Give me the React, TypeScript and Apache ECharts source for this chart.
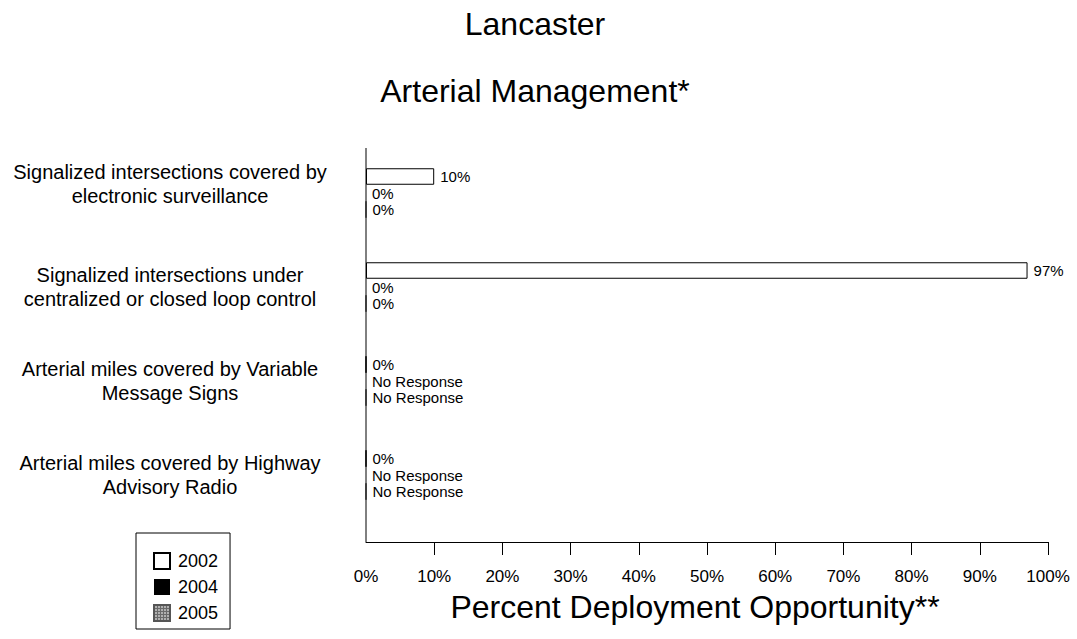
import React, { useEffect, useRef } from "react";
import * as echarts from "echarts";

const categories = [
  "Signalized intersections covered by\nelectronic surveillance",
  "Signalized intersections under\ncentralized or closed loop control",
  "Arterial miles covered by Variable\nMessage Signs",
  "Arterial miles covered by Highway\nAdvisory Radio",
];
const seriesNames = ["2002", "2004", "2005"];
const values2002: (number | null)[] = [10, 97, 0, 0];
const values2004: (number | null)[] = [0, 0, null, null];
const values2005: (number | null)[] = [0, 0, null, null];
const tickValues = [10, 20, 30, 40, 50, 60, 70, 80, 90, 100];
const titleText = "Lancaster";
const subtitleText = "Arterial Management*";
const axisTitleText = "Percent Deployment Opportunity**";
const noResponseText = "No Response";

const FONT = "'Liberation Sans', Arial, Helvetica, sans-serif";
const W = 1077;
const H = 639;
const GRID_LEFT = 366;
const GRID_RIGHT = 29;
const GRID_TOP = 146;
const GRID_HEIGHT = 376;
const X_OFFSET = 20;

function makePattern(): any {
  const c = document.createElement("canvas");
  c.width = 3;
  c.height = 3;
  const ctx = c.getContext("2d")!;
  ctx.fillStyle = "#b0b0b0";
  ctx.fillRect(0, 0, 3, 3);
  ctx.fillStyle = "#6a6a6a";
  ctx.fillRect(0, 0, 3, 1);
  ctx.fillRect(0, 0, 1, 3);
  return { image: c, repeat: "repeat" };
}

export default function App() {
  const ref = useRef<HTMLDivElement>(null);
  useEffect(() => {
    if (!ref.current) return;
    const chart = echarts.init(ref.current, undefined, { renderer: "svg" });
    const makeSeries = (name: string, vals: (number | null)[], itemStyle: any) => ({
      type: "bar",
      name,
      barWidth: 16.5,
      barGap: "0%",
      data: vals.map((v) => (v === null ? 0 : v)),
      itemStyle,
      label: {
        show: true,
        position: "right",
        distance: 6,
        fontSize: 15,
        fontFamily: FONT,
        color: "#000",
        formatter: (p: any) => {
          const v = vals[p.dataIndex];
          return v === null ? noResponseText : v + "%";
        },
      },
    });
    const bottomY = GRID_TOP + GRID_HEIGHT + X_OFFSET;
    chart.setOption({
      animation: false,
      backgroundColor: "#fff",
      textStyle: { fontFamily: FONT },
      grid: {
        left: GRID_LEFT,
        right: GRID_RIGHT,
        top: GRID_TOP,
        height: GRID_HEIGHT,
        containLabel: false,
      },
      legend: {
        orient: "vertical",
        left: 136,
        top: 533,
        itemWidth: 16,
        itemHeight: 16,
        itemGap: 8,
        padding: [19, 12, 7, 17],
        borderColor: "#000",
        borderWidth: 1,
        icon: "rect",
        data: seriesNames,
        textStyle: { fontSize: 18, color: "#000", fontFamily: FONT, padding: [0, 0, 0, 3] },
      },
      xAxis: {
        type: "value",
        min: 0,
        max: 100,
        interval: 10,
        offset: X_OFFSET,
        axisLine: { show: true, lineStyle: { color: "#000", width: 1 } },
        axisTick: { show: true, length: 13, customValues: tickValues, lineStyle: { color: "#000" } },
        axisLabel: { formatter: "{value}%", fontSize: 17, color: "#000", margin: 26, fontFamily: FONT },
        splitLine: { show: false },
      },
      yAxis: {
        type: "category",
        inverse: true,
        data: categories,
        axisLine: { show: false },
        axisTick: { show: false },
        axisLabel: {
          align: "center",
          margin: 196,
          fontSize: 20,
          lineHeight: 24,
          color: "#000",
          fontFamily: FONT,
          formatter: (v: string, i: number) => (i === 0 ? v + "\n{s| }" : v),
          rich: { s: { fontSize: 1, lineHeight: 18 } },
        },
      },
      graphic: [
        {
          type: "line",
          shape: { x1: GRID_LEFT, y1: GRID_TOP + 2, x2: GRID_LEFT, y2: bottomY },
          style: { stroke: "#000", lineWidth: 1 },
          z: 10,
        },
        {
          type: "text",
          x: 535,
          y: 24,
          style: { text: titleText, fontSize: 32, fontFamily: FONT, fill: "#000", textAlign: "center", textVerticalAlign: "middle" },
        },
        {
          type: "text",
          x: 535,
          y: 91,
          style: { text: subtitleText, fontSize: 32, fontFamily: FONT, fill: "#000", textAlign: "center", textVerticalAlign: "middle" },
        },
        {
          type: "text",
          x: 695,
          y: 607,
          style: { text: axisTitleText, fontSize: 32, fontFamily: FONT, fill: "#000", textAlign: "center", textVerticalAlign: "middle" },
        },
      ],
      series: [
        makeSeries(seriesNames[0], values2002, { color: "#fff", borderColor: "#000", borderWidth: 1 }),
        makeSeries(seriesNames[1], values2004, { color: "#000" }),
        makeSeries(seriesNames[2], values2005, { color: makePattern(), borderColor: "#555", borderWidth: 1 }),
      ],
    });
    return () => chart.dispose();
  }, []);
  return (
    <div
      ref={ref}
      style={{ position: "fixed", left: 0, top: 0, width: W, height: H, background: "#fff" }}
    />
  );
}
